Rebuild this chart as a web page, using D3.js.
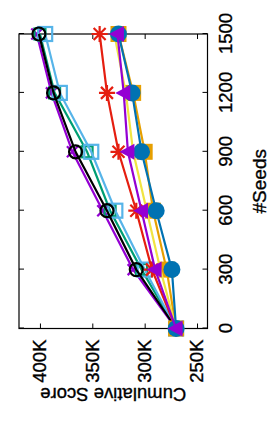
<!DOCTYPE html>
<html>
<head>
<meta charset="utf-8">
<script src="https://cdn.jsdelivr.net/npm/d3@7"></script>
<style>
  body { margin: 0; background: #fff; }
  text { font-family: "Liberation Sans", Arial, sans-serif; stroke: #000; stroke-width: 0.35px; }
</style>
</head>
<body>
<script>
// The plot is drawn the normal way, then the whole group is
// turned a quarter turn to the left, like the reference.

var seeds = [0, 300, 600, 900, 1200, 1500];
var seedTicks = [0, 300, 600, 900, 1200, 1500];
var scoreTicks = [250, 300, 350, 400];

// cumulative score, in thousands
var purpleCross = [270, 311, 340, 369, 389, 403];
var greenBox    = [270, 303, 333, 355, 386, 400];
var skyBox      = [270, 300, 328, 351, 381, 395];
var blackRing   = [270, 308, 336, 366, 387, 401];
var redStar     = [270, 293, 308, 325, 336, 343];
var orangeBox   = [270, 279, 292, 300, 311, 325];
var yellowLine  = [270, 285, 298, 311, 318, 329];
var blueDot     = [270, 274, 289, 303, 312, 325];
var purpleTri   = [270, 290, 303, 316, 320, 326];

var series = [
  { values: purpleCross, color: '#9400d3', mark: 'cross' },
  { values: greenBox,    color: '#009e73', mark: 'box', size: 11 },
  { values: skyBox,      color: '#56b4e9', mark: 'box', size: 14 },
  { values: blackRing,   color: '#000000', mark: 'ring' },
  { values: redStar,     color: '#e51e10', mark: 'star' },
  { values: orangeBox,   color: '#e69f00', mark: 'fillbox' },
  { values: yellowLine,  color: '#f0e442', mark: 'none' },
  { values: blueDot,     color: '#0072b2', mark: 'dot' },
  { values: purpleTri,   color: '#9400d3', mark: 'tri' }
];

var W = 423, H = 269;
var margin = { top: 19, right: 34, bottom: 61.5, left: 94.5 };

var svg = d3.select('body').append('svg')
  .attr('width', 269)
  .attr('height', 423);

var g = svg.append('g')
  .attr('transform', 'translate(0,423) rotate(-90)');

var x = d3.scaleLinear().domain([0, 1500]).range([margin.left, W - margin.right]);
var y = d3.scaleLinear().domain([240, 420]).range([H - margin.bottom, margin.top]);

// axes, ticks point inwards and are mirrored
g.append('g')
  .attr('transform', 'translate(0,' + y.range()[0] + ')')
  .call(d3.axisBottom(x).tickValues(seedTicks).tickSizeInner(-5).tickSizeOuter(0).tickPadding(11.5)
    .tickFormat(d3.format('d')));
g.append('g')
  .attr('transform', 'translate(0,' + y.range()[1] + ')')
  .call(d3.axisTop(x).tickValues(seedTicks).tickSizeInner(-5).tickSizeOuter(0).tickFormat(''));
g.append('g')
  .attr('transform', 'translate(' + x.range()[0] + ',0)')
  .call(d3.axisLeft(y).tickValues(scoreTicks).tickSizeInner(-5).tickSizeOuter(0).tickPadding(11)
    .tickFormat(function(d) { return d + 'K'; }));
g.append('g')
  .attr('transform', 'translate(' + x.range()[1] + ',0)')
  .call(d3.axisRight(y).tickValues(scoreTicks).tickSizeInner(-5).tickSizeOuter(0).tickFormat(''));

g.selectAll('.domain').remove();
g.selectAll('.tick line').attr('stroke', '#000');
g.selectAll('.tick text')
  .attr('fill', '#000')
  .style('font-size', '18.5px');

g.append('rect')
  .attr('x', x.range()[0])
  .attr('y', y.range()[1])
  .attr('width', x.range()[1] - x.range()[0])
  .attr('height', y.range()[0] - y.range()[1])
  .attr('fill', 'none')
  .attr('stroke', '#000')
  .attr('stroke-width', 1.2);

// axis titles
g.append('text')
  .attr('x', (x.range()[0] + x.range()[1]) / 2)
  .attr('y', 266)
  .attr('text-anchor', 'middle')
  .style('font-size', '19px')
  .text('#Seeds');

g.append('text')
  .attr('transform', 'translate(35,' + (y.range()[0] + y.range()[1]) / 2 + ') rotate(-90)')
  .attr('text-anchor', 'middle')
  .style('font-size', '18.5px')
  .text('Cumulative Score');

var line = d3.line()
  .x(function(d, i) { return x(seeds[i]); })
  .y(function(d) { return y(d); });

function drawMark(sel, s) {
  var c = s.color;
  if (s.mark === 'cross') {
    sel.append('path').attr('d', 'M-5.5,-5.5L5.5,5.5M-5.5,5.5L5.5,-5.5')
      .attr('stroke', c).attr('stroke-width', 2.2).attr('fill', 'none');
  } else if (s.mark === 'box') {
    var h = s.size / 2;
    sel.append('rect').attr('x', -h).attr('y', -h).attr('width', s.size).attr('height', s.size)
      .attr('stroke', c).attr('stroke-width', 2.2).attr('fill', 'none');
  } else if (s.mark === 'ring') {
    sel.append('circle').attr('r', 6.5)
      .attr('stroke', c).attr('stroke-width', 2.2).attr('fill', 'none');
  } else if (s.mark === 'star') {
    sel.append('path').attr('d', 'M-8,0L8,0M0,-8L0,8M-6,-6L6,6M-6,6L6,-6')
      .attr('stroke', c).attr('stroke-width', 2.2).attr('fill', 'none');
  } else if (s.mark === 'fillbox') {
    sel.append('rect').attr('x', -8).attr('y', -8).attr('width', 16).attr('height', 16)
      .attr('fill', c);
  } else if (s.mark === 'dot') {
    sel.append('circle').attr('r', 8.5).attr('fill', c);
  } else if (s.mark === 'tri') {
    sel.append('path').attr('d', 'M0,-8.5L8,6.5L-8,6.5Z').attr('fill', c);
  }
}

series.forEach(function(s) {
  g.append('path')
    .datum(s.values)
    .attr('d', line)
    .attr('fill', 'none')
    .attr('stroke', s.color)
    .attr('stroke-width', 2.2);

  g.selectAll(null)
    .data(s.values)
    .enter().append('g')
    .attr('transform', function(d, i) { return 'translate(' + x(seeds[i]) + ',' + y(d) + ')'; })
    .each(function() { drawMark(d3.select(this), s); });
});
</script>
</body>
</html>
